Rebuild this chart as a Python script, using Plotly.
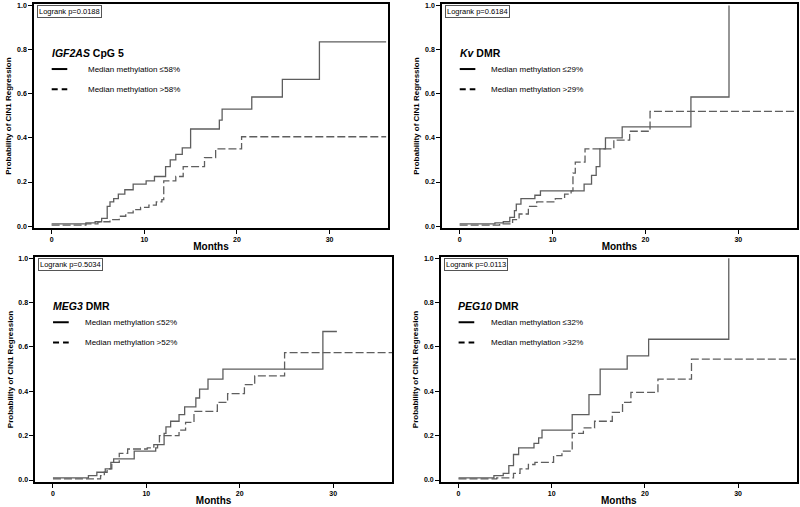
import plotly.graph_objects as go

# ---------------- data ----------------
gene_names = ["IGF2AS", "Kv", "MEG3", "PEG10"]
region_names = ["CpG 5", "DMR", "DMR", "DMR"]
cutoffs = [58, 29, 52, 32]
logrank_p = ["0.0188", "0.6184", "0.5034", "0.0113"]

month_ticks = [0, 10, 20, 30]
prob_ticks = [0.0, 0.2, 0.4, 0.6, 0.8, 1.0]

# IGF2AS CpG 5
t_igf_lo = [0, 3.7, 4.7, 5.4, 6.0, 6.3, 6.7, 7.2, 7.9, 8.8, 10.2, 11.1, 12.3, 12.8, 13.4, 14.1, 15.0, 18.1, 18.4, 21.6, 24.9, 28.9, 36.1]
p_igf_lo = [0.01, 0.015, 0.02, 0.035, 0.09, 0.11, 0.125, 0.145, 0.165, 0.19, 0.205, 0.225, 0.27, 0.30, 0.325, 0.355, 0.44, 0.48, 0.53, 0.585, 0.665, 0.835, 0.835]
t_igf_hi = [0, 3.7, 5.0, 6.3, 7.3, 8.0, 8.8, 9.6, 10.5, 11.3, 11.9, 12.1, 13.4, 14.2, 16.5, 17.7, 20.5, 36.1]
p_igf_hi = [0.005, 0.01, 0.02, 0.03, 0.045, 0.06, 0.075, 0.085, 0.095, 0.11, 0.12, 0.205, 0.225, 0.27, 0.31, 0.35, 0.405, 0.405]

# Kv DMR
t_kv_lo = [0, 3.8, 4.7, 5.4, 5.9, 6.1, 6.6, 8.1, 8.7, 13.4, 14.2, 14.7, 15.1, 15.7, 17.5, 24.9, 29.0]
p_kv_lo = [0.01, 0.015, 0.02, 0.04, 0.07, 0.10, 0.125, 0.14, 0.16, 0.19, 0.23, 0.27, 0.35, 0.40, 0.45, 0.585, 1.0]
t_kv_hi = [0, 4.3, 5.7, 6.4, 7.4, 8.3, 10.3, 11.3, 12.0, 12.2, 12.45, 13.5, 16.6, 18.3, 20.5, 36.3]
p_kv_hi = [0.005, 0.01, 0.03, 0.055, 0.09, 0.11, 0.125, 0.145, 0.16, 0.24, 0.29, 0.35, 0.39, 0.43, 0.52, 0.52]

# MEG3 DMR
t_meg_lo = [0, 3.8, 4.7, 5.6, 6.2, 6.5, 8.7, 11.0, 11.2, 11.9, 12.1, 12.6, 13.5, 14.1, 15.3, 15.7, 16.6, 18.2, 28.9, 30.4]
p_meg_lo = [0.01, 0.02, 0.035, 0.05, 0.08, 0.095, 0.13, 0.145, 0.16, 0.21, 0.24, 0.265, 0.295, 0.33, 0.37, 0.41, 0.455, 0.50, 0.67, 0.67]
t_meg_hi = [0, 5.1, 5.5, 5.8, 6.3, 7.1, 8.0, 10.1, 10.8, 11.4, 13.5, 14.2, 15.1, 17.6, 18.7, 20.5, 21.6, 24.8, 36.3]
p_meg_hi = [0.005, 0.02, 0.035, 0.05, 0.08, 0.12, 0.14, 0.145, 0.16, 0.2, 0.225, 0.26, 0.31, 0.35, 0.39, 0.43, 0.47, 0.575, 0.575]

# PEG10 DMR
t_peg_lo = [0, 3.8, 4.8, 5.4, 5.9, 6.45, 8.1, 8.6, 8.96, 12.2, 14.0, 15.2, 18.1, 20.4, 29.0]
p_peg_lo = [0.01, 0.02, 0.03, 0.065, 0.115, 0.145, 0.165, 0.19, 0.225, 0.295, 0.385, 0.5, 0.56, 0.635, 1.0]
t_peg_hi = [0, 4.1, 5.9, 6.6, 7.5, 8.2, 10.2, 11.1, 12.2, 13.4, 14.6, 16.5, 17.6, 18.5, 21.4, 25.0, 36.2]
p_peg_hi = [0.005, 0.01, 0.03, 0.05, 0.07, 0.08, 0.11, 0.13, 0.21, 0.235, 0.265, 0.305, 0.35, 0.395, 0.455, 0.545, 0.545]

series_lo = [(t_igf_lo, p_igf_lo), (t_kv_lo, p_kv_lo), (t_meg_lo, p_meg_lo), (t_peg_lo, p_peg_lo)]
series_hi = [(t_igf_hi, p_igf_hi), (t_kv_hi, p_kv_hi), (t_meg_hi, p_meg_hi), (t_peg_hi, p_peg_hi)]

# ---------------- layout / styling ----------------
FONT = "Liberation Sans, Arial, sans-serif"
x_domains = [[0.0425, 0.485], [0.5525, 0.996], [0.044, 0.490], [0.551, 0.996]]
y_domains = [[0.550, 0.992], [0.550, 0.992], [0.0493, 0.4931], [0.0493, 0.4931]]
legend_text_x = [0.147, 0.132, 0.134, 0.135]

LINE_COLOR = "#5e5e5e"

fig = go.Figure()
layout = dict(
    width=800, height=507,
    margin=dict(l=0, r=0, t=0, b=0),
    paper_bgcolor="white", plot_bgcolor="white",
    showlegend=False,
    font=dict(family=FONT, color="black"),
)
annotations = []
shapes = []

for k in range(4):
    sfx = "" if k == 0 else str(k + 1)
    xa, ya = "x" + sfx, "y" + sfx
    t_lo, p_lo = series_lo[k]
    t_hi, p_hi = series_hi[k]
    fig.add_trace(go.Scatter(
        x=t_lo, y=p_lo, mode="lines", line_shape="hv",
        line=dict(color=LINE_COLOR, width=1.3),
        name=f"Median methylation \u2264{cutoffs[k]}%", xaxis=xa, yaxis=ya))
    fig.add_trace(go.Scatter(
        x=t_hi, y=p_hi, mode="lines", line_shape="hv",
        line=dict(color=LINE_COLOR, width=1.3, dash="8px,3px"),
        name=f"Median methylation >{cutoffs[k]}%", xaxis=xa, yaxis=ya))

    layout["xaxis" + sfx] = dict(
        domain=x_domains[k], anchor=ya, range=[-1.9, 36.3],
        tickvals=month_ticks, ticks="outside", ticklen=4, tickwidth=1, tickcolor="black",
        tickfont=dict(size=7, weight="bold", family=FONT, color="black"),
        showline=True, linecolor="black", linewidth=1.5, mirror=True,
        showgrid=False, zeroline=False,
        title=dict(text="Months", font=dict(size=10, weight="bold", family=FONT), standoff=1),
        automargin=False,
    )
    layout["yaxis" + sfx] = dict(
        domain=y_domains[k], anchor=xa, range=[-0.009, 1.006],
        tickvals=prob_ticks, tickformat=".1f", ticks="outside", ticklen=4, tickwidth=1, tickcolor="black",
        tickfont=dict(size=7, weight="bold", family=FONT, color="black"),
        showline=True, linecolor="black", linewidth=1.5, mirror=True,
        showgrid=False, zeroline=False,
        title=dict(text="Probability of CIN1 Regression", font=dict(size=8, weight="bold", family=FONT), standoff=4),
        automargin=False,
    )

    xd, yd = xa + " domain", ya + " domain"
    # log-rank box
    annotations.append(dict(
        xref=xd, yref=yd, x=0.008, y=0.965, xanchor="left", yanchor="middle",
        text=f"Logrank p={logrank_p[k]}", showarrow=False,
        font=dict(size=7.5, family=FONT), bordercolor="#555555", borderwidth=1, borderpad=1,
        bgcolor="white"))
    # panel title
    annotations.append(dict(
        xref=xd, yref=yd, x=0.044, y=0.782, xanchor="left", yanchor="middle",
        text=f"<b><i>{gene_names[k]}</i> {region_names[k]}</b>", showarrow=False,
        font=dict(size=10.5, family=FONT)))
    # legend entries
    for j, (yy, dash, lab) in enumerate([(0.71, "solid", "\u2264"), (0.62, "6px,4px", ">")]):
        shapes.append(dict(type="line", xref=xd, yref=yd, x0=0.05, x1=0.094, y0=yy, y1=yy,
                           line=dict(color="black", width=2, dash=dash)))
        annotations.append(dict(
            xref=xd, yref=yd, x=legend_text_x[k], y=yy, xanchor="left", yanchor="middle",
            text=f"Median methylation {lab}{cutoffs[k]}%", showarrow=False,
            font=dict(size=8, family=FONT)))

layout["annotations"] = annotations
layout["shapes"] = shapes
fig.update_layout(**layout)
fig.write_html(
    "out.html",
    config={"displayModeBar": False},
    post_script="document.body.style.margin='0';document.body.style.padding='0';",
)
